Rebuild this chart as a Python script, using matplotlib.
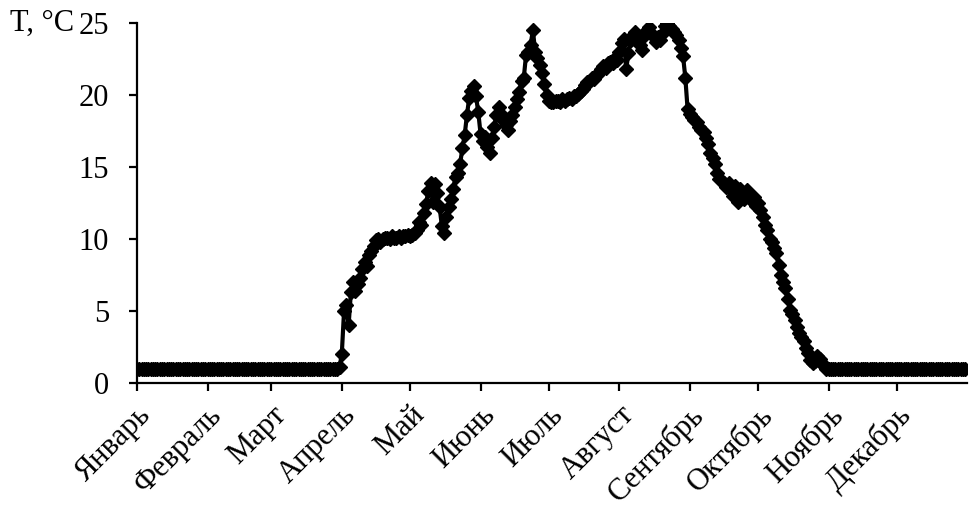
import matplotlib
matplotlib.use('Agg')
import matplotlib.pyplot as plt
import matplotlib.transforms as mtransforms
import numpy as np

plt.rcParams['font.family'] = ['Liberation Serif', 'DejaVu Serif']

months = ['Январь', 'Февраль', 'Март', 'Апрель', 'Май', 'Июнь',
          'Июль', 'Август', 'Сентябрь', 'Октябрь', 'Ноябрь', 'Декабрь']
month_start = [0, 31, 59, 90, 120, 151, 181, 212, 243, 273, 304, 334]

# daily temperature, deg C, one value per day of the year
winter_start = [1.0] * 89          # 1 Jan .. 29 Mar
season = [
    1.1, 2.0, 5.0, 5.4, 4.0, 6.3, 7.0, 6.4, 6.9, 7.3,
    7.9, 8.4, 8.1, 8.9, 9.2, 9.5, 9.9, 10.0, 9.8, 10.0,
    10.1, 10.1, 10.0, 10.2, 10.1, 10.1, 10.2, 10.1, 10.2, 10.2,
    10.3, 10.2, 10.3, 10.4, 10.6, 11.2, 11.0, 11.8, 12.4, 13.3,
    13.9, 12.6, 13.8, 13.2, 12.2, 10.9, 10.4, 11.5, 12.2, 12.8,
    13.5, 14.3, 14.6, 15.2, 16.3, 17.2, 18.6, 19.8, 20.3, 20.6,
    19.9, 18.8, 17.3, 16.8, 17.1, 16.4, 16.0, 17.0, 17.8, 18.6,
    19.2, 18.7, 18.3, 17.9, 17.6, 18.2, 18.6, 19.2, 19.7, 20.2,
    21.0, 21.2, 22.8, 23.0, 23.5, 24.5, 23.0, 22.6, 22.1, 21.5,
    20.8, 20.0, 19.6, 19.5, 19.5, 19.6, 19.6, 19.5, 19.7, 19.6,
    19.7, 19.8, 19.7, 19.9, 19.9, 20.1, 20.3, 20.4, 20.7, 20.9,
    21.0, 21.2, 21.1, 21.4, 21.6, 21.8, 22.0, 21.9, 22.2, 22.3,
    22.2, 22.6, 22.4, 23.0, 23.6, 23.9, 21.8, 22.9, 23.8, 24.2,
    24.4, 24.0, 23.5, 23.1, 24.1, 24.5, 24.7, 24.3, 24.1, 23.7,
    24.0, 23.8, 24.3, 24.8, 25.0, 24.8, 24.6, 24.4, 24.2, 23.8,
    23.3, 22.7, 21.2, 19.0, 18.7, 18.5, 18.3, 18.1, 17.8, 17.6,
    17.4, 17.0, 16.6, 16.0, 15.6, 15.2, 14.6, 14.2, 14.0, 13.9,
    13.6, 13.9, 13.4, 13.0, 13.7, 12.6, 13.5, 13.2, 12.8, 13.4,
    13.1, 12.7, 12.9, 12.3, 12.5, 12.0, 11.5, 11.0, 10.6, 10.0,
    9.8, 9.4, 9.0, 8.2, 7.5, 7.0, 6.6, 5.8, 5.1, 4.8,
    4.4, 3.9, 3.5, 3.2, 2.9, 2.4, 2.1, 1.6, 1.4, 1.5,
    1.9, 1.7, 1.4, 1.2, 1.0,
]
winter_end = [1.0] * 61            # 1 Nov .. 31 Dec

temp = np.array(winter_start + season + winter_end)
day = np.arange(len(temp))

fig = plt.figure(figsize=(9.69, 5.12), dpi=100)
ax = fig.add_axes([0.1414, 0.252, 0.857, 0.703])

ax.plot(day, temp, color='black', lw=3.0, marker='D', ms=7,
        mec='black', mfc='black')

ax.set_xlim(0, 365)
ax.set_ylim(0, 25)
ax.set_yticks([0, 5, 10, 15, 20, 25])
ax.set_xticks(month_start)
ax.set_xticklabels(months, rotation=45, ha='right', va='center',
                   rotation_mode='anchor')

for s in ['top', 'right']:
    ax.spines[s].set_visible(False)
for s in ['left', 'bottom']:
    ax.spines[s].set_linewidth(1.6)

ax.tick_params(axis='y', direction='out', length=6, width=1.6,
               labelsize=22, pad=14)
ax.tick_params(axis='x', direction='out', length=6, width=1.6,
               labelsize=22, pad=14)

# month names sit a little to the right of their ticks
shift = mtransforms.ScaledTranslation(0.10, 0, fig.dpi_scale_trans)
for lbl in ax.get_xticklabels():
    lbl.set_transform(lbl.get_transform() + shift)

fig.text(0.010, 0.955, 'T, °C', fontsize=22, ha='left', va='center')

fig.savefig('out.png', dpi=100)
